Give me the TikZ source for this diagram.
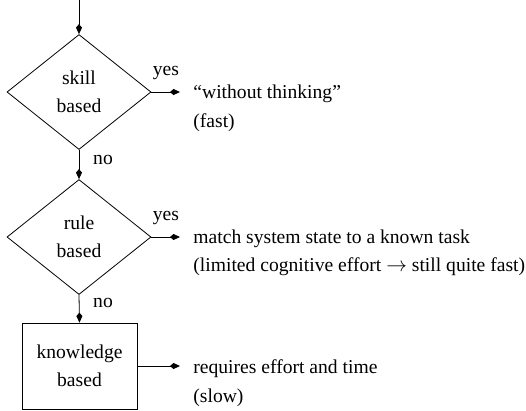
\documentclass[tikz,border=0pt]{standalone}
\usepackage{fontspec}
\setmainfont{Liberation Serif}
\usetikzlibrary{shapes.geometric,arrows.meta}
\begin{document}
\begin{tikzpicture}[x=1pt,y=-1pt,
  every node/.style={font=\fontsize{19.6}{28.5}\selectfont},
  line width=0.8pt,
  decision/.style={draw, shape=diamond, minimum width=144pt, minimum height=115pt, inner sep=0pt, align=center},
  process/.style={draw, rectangle, minimum width=115pt, minimum height=86pt, inner sep=0pt, align=center},
  outtext/.style={anchor=base west, inner sep=0pt},
  lbl/.style={inner sep=0pt},
  arr/.style={-{Kite[length=10pt,width=6pt,inset=3.5pt]}},
  outarr/.style={arr, shorten >=13pt}
]
\useasboundingbox (0,0) rectangle (526,410);

\coordinate (start) at (79,0);
\node[decision] (d1) at (79,92) {skill\\based};
\node[decision] (d2) at (79,237) {rule\\based};
\node[process] (kb) at (79.5,366) {knowledge\\based};

\node[lbl] (yes1) at (166,73) {yes};
\node[lbl] (yes2) at (166,218) {yes};
\node[lbl] (no1) at (103,160) {no};
\node[lbl] (no2) at (103,303) {no};

\node[outtext] (t1a) at (193,98) {``without thinking''};
\node[outtext] (t1b) at (193,127) {(fast)};
\node[outtext] (t2a) at (193,243) {match system state to a known task};
\node[outtext] (t2b) at (193,271) {(limited cognitive effort $\rightarrow$ still quite fast)};
\node[outtext] (t3a) at (193,373) {requires effort and time};
\node[outtext] (t3b) at (193,402) {(slow)};

\draw[arr] (start) -- (d1.north);
\draw[arr] (d1.south) -- (d2.north);
\draw[arr] (d2.south) -- (kb.north);
\draw[outarr] (d1.east) -- (d1.east -| t1a.west);
\draw[outarr] (d2.east) -- (d2.east -| t2a.west);
\draw[outarr] (kb.east) -- (kb.east -| t3a.west);
\end{tikzpicture}
\end{document}
